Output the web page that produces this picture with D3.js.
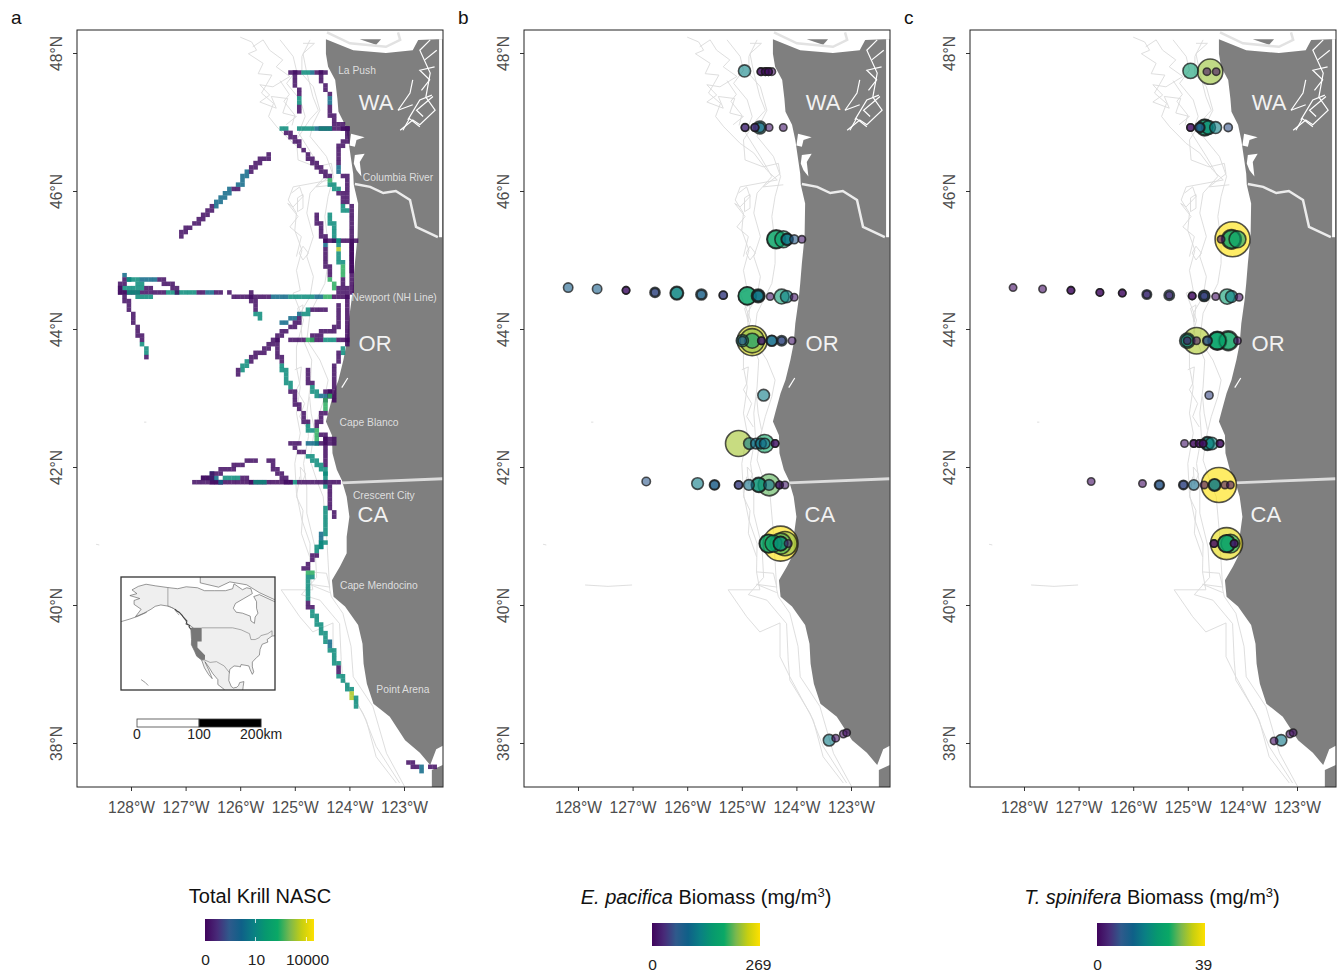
<!DOCTYPE html>
<html>
<meta charset="utf-8">
<title>Krill maps</title>
<style>
    body { margin: 0; background: #fff; }
    svg { display: block; }
    text { font-family: "Liberation Sans", Arial, sans-serif; }
    .tick-label { fill: #4d4d4d; font-size: 15.6px; }
</style>
<script src="https://d3js.org/d3.v7.min.js" charset="utf-8"></script>

<script>
    // map outlines, all [lon, lat]
    const landCoast = [[-124.43,48.20],[-124.43,47.99],[-124.39,47.80],[-124.26,47.61],[-124.22,47.34],[-124.20,47.15],[-124.08,46.96],[-124.02,46.74],[-123.93,46.25],[-123.92,46.09],[-123.84,45.82],[-123.85,45.34],[-123.90,44.95],[-123.93,44.66],[-123.96,44.42],[-124.02,44.08],[-124.05,43.79],[-124.11,43.55],[-124.20,43.26],[-124.29,43.07],[-124.39,42.78],[-124.43,42.66],[-124.32,42.46],[-124.31,42.20],[-124.23,41.96],[-124.14,41.81],[-124.05,41.57],[-124.00,41.28],[-124.05,40.99],[-124.05,40.75],[-124.17,40.56],[-124.32,40.36],[-124.29,40.12],[-124.08,39.98],[-123.84,39.71],[-123.76,39.44],[-123.74,39.15],[-123.68,38.86],[-123.56,38.57],[-123.26,38.38],[-122.98,38.04],[-122.71,37.86],[-122.52,37.68],[-122.41,37.91],[-122.29,37.96],[-122.29,48.20],[-122.40,48.20],[-122.74,48.19],[-122.84,48.04],[-123.33,48.00],[-123.93,48.04]];
    const southPeninsula = [[-122.49,37.61],[-122.29,37.68],[-122.29,37.36],[-122.49,37.36]];
    const vancouverIsland = [[-123.81,48.20],[-123.42,48.20],[-123.51,48.12]];
    const straitLine = [[-124.41,48.30],[-123.99,48.14],[-123.33,48.09],[-123.07,48.19],[-123.11,48.30]];
    const columbiaRiver = [[-123.90,46.10],[-123.62,46.06],[-123.38,45.97],[-123.15,46.00],[-122.89,45.87],[-122.78,45.48],[-122.38,45.33]];
    const stateBorder = [[-124.14,41.77],[-122.29,41.83]];
    const eastStripe = [[-122.33,48.20],[-122.33,45.33]];
    const pugetInlets = [
        [[-123.11,47.17],[-122.89,47.42],[-122.84,47.61]],
        [[-123.11,47.17],[-122.84,47.25]],
        [[-123.07,46.88],[-122.84,47.03],[-122.71,46.96],[-122.43,47.17],[-122.60,47.36],[-122.52,47.71],[-122.71,48.04],[-122.52,48.19]],
        [[-122.93,47.03],[-122.71,47.32],[-122.49,47.39]],
        [[-122.62,47.90],[-122.40,48.04]],
        [[-123.02,46.88],[-122.90,47.05],[-122.71,46.93]],
        [[-122.65,47.08],[-122.77,47.17],[-122.47,47.37]],
        [[-122.68,47.46],[-122.53,47.61],[-122.71,47.75],[-122.44,47.80]],
        [[-124.14,43.15],[-124.03,43.29]]
    ];
    const estuaries = [
        [[-123.97,46.83],[-123.72,46.78],[-123.87,46.74],[-123.90,46.64],[-124.00,46.66]],
        [[-123.90,46.52],[-123.72,46.54],[-123.81,46.42],[-123.78,46.21],[-123.87,46.30],[-123.92,46.40]]
    ];
    const isobaths = [
        [[-126.00,48.23],[-125.79,48.16],[-125.70,48.04],[-125.85,47.99],[-125.58,47.85],[-125.67,47.70],[-125.42,47.68],[-125.52,47.54],[-125.61,47.42],[-125.39,47.27],[-125.48,47.08],[-125.33,46.93],[-125.03,46.69],[-124.78,46.55],[-124.54,46.30],[-124.35,46.16],[-125.03,46.06],[-125.12,45.87],[-124.97,45.68],[-125.00,45.43],[-124.87,45.14],[-124.97,44.85],[-124.90,44.56],[-125.03,44.52],[-124.84,44.13],[-124.97,43.74],[-124.97,43.45],[-124.90,43.16],[-124.97,42.78],[-124.90,42.49],[-125.00,42.05],[-124.97,41.62],[-124.87,41.23],[-124.72,40.89],[-124.73,40.48],[-124.67,40.22],[-125.25,40.22],[-124.91,39.83],[-124.67,39.61],[-124.30,39.74],[-124.30,39.25],[-124.12,38.96],[-123.69,38.33],[-123.51,37.80],[-123.14,37.42]],
        [[-125.27,48.19],[-125.03,47.95],[-124.97,47.75],[-125.15,47.56],[-124.90,47.32],[-124.81,47.08],[-124.93,46.84],[-124.66,46.50],[-124.45,46.21],[-124.72,45.97],[-124.78,45.68],[-124.66,45.34],[-124.78,45.05],[-124.66,44.76],[-124.72,44.47],[-124.90,44.23],[-124.87,43.89],[-124.69,43.55],[-124.72,43.16],[-124.78,42.78],[-124.75,42.44],[-124.84,42.05],[-124.78,41.71],[-124.78,41.33],[-124.63,40.84],[-124.60,40.40],[-124.88,40.15],[-124.54,40.07],[-124.18,39.73],[-124.15,39.20],[-124.12,38.91],[-123.75,38.43],[-123.51,37.95],[-123.08,37.42]],
        [[-124.72,48.19],[-124.87,47.95],[-124.87,47.70],[-124.66,47.51],[-124.54,47.17],[-124.66,46.98],[-124.72,46.79],[-124.42,46.50],[-124.29,46.21],[-124.39,45.92],[-124.45,45.63],[-124.39,45.24],[-124.39,44.95],[-124.45,44.66],[-124.60,44.42],[-124.72,44.23],[-124.78,43.84],[-124.54,43.55],[-124.39,43.26],[-124.45,43.02],[-124.57,42.73],[-124.66,42.44],[-124.72,42.10],[-124.60,41.81],[-124.48,41.57],[-124.42,41.04],[-124.36,40.22],[-124.33,40.12],[-124.12,39.88],[-123.97,39.40],[-123.93,38.96],[-123.57,38.53],[-123.32,37.85],[-122.99,37.37]],
        [[-125.27,47.60],[-125.10,47.40],[-125.20,47.30],[-125.00,47.10],[-125.05,46.95]],
        [[-125.77,48.09],[-125.58,48.19],[-125.46,48.04],[-125.22,47.90],[-125.34,47.80],[-125.09,47.66],[-125.40,47.51],[-125.64,47.54],[-125.46,47.39],[-125.64,47.29],[-125.34,47.20],[-125.43,47.37],[-125.13,47.34],[-125.22,47.13],[-124.97,47.08],[-125.16,46.96]],
        [[-124.85,48.14],[-124.64,48.14],[-124.85,47.99],[-124.79,47.75],[-124.67,47.37],[-124.57,47.17],[-124.73,47.03],[-124.97,46.74],[-124.94,46.45],[-124.61,46.35],[-124.33,46.40],[-124.30,46.25],[-124.61,46.06],[-124.24,46.09]],
        [[-125.06,45.97],[-124.91,46.06],[-124.85,45.92],[-125.03,45.77],[-125.13,45.82],[-124.94,45.63],[-125.09,45.48],[-124.88,45.34],[-124.97,45.05]],
        [[-125.00,43.41],[-124.88,43.45],[-124.91,43.21],[-124.97,43.12],[-124.82,42.92],[-124.91,42.73],[-124.79,42.58]],
        [[-124.73,43.02],[-124.70,42.78],[-124.64,42.54]],
        [[-124.91,41.86],[-124.97,41.57],[-124.85,41.37],[-124.88,41.04],[-124.73,40.70]],
        [[-124.73,40.48],[-124.42,40.46],[-124.36,40.26],[-124.73,40.30],[-124.36,40.18]],
        [[-124.95,45.90],[-124.85,45.95],[-124.85,45.75],[-124.95,45.70],[-124.95,45.90]],
        [[-124.85,45.20],[-124.75,45.10],[-124.85,45.00],[-124.92,45.10],[-124.85,45.20]],
        [[-124.95,44.30],[-124.85,44.35],[-124.88,44.10],[-124.95,44.30]],
        [[-124.90,42.00],[-124.80,41.90],[-124.88,41.75],[-124.90,42.00]],
        [[-127.87,40.29],[-127.45,40.27],[-127.01,40.29]],
        [[-128.64,40.88],[-128.58,40.87]],
        [[-127.76,42.65],[-127.72,42.65]]
    ];

    // survey tracks: waypoints and NASC of the stretch after each waypoint
    const trackCoords = [
        [[-125.06,47.72],[-124.89,47.72],[-124.77,47.72],[-124.66,47.72],[-124.45,47.72]],
        [[-124.98,47.70],[-124.98,47.51],[-124.92,47.46],[-124.92,47.42],[-124.92,47.27],[-124.92,47.13]],
        [[-124.53,47.72],[-124.48,47.56],[-124.39,47.42],[-124.39,47.29],[-124.35,47.17],[-124.26,46.98],[-124.08,46.93]],
        [[-124.93,46.92],[-124.72,46.92],[-124.57,46.92],[-124.08,46.92]],
        [[-124.54,46.88],[-124.35,46.88]],
        [[-125.27,46.92],[-125.18,46.88],[-124.78,46.55],[-124.39,46.21],[-124.35,46.13],[-124.20,46.01],[-124.11,45.87],[-124.08,45.70]],
        [[-124.08,46.92],[-124.08,46.74],[-124.17,46.67],[-124.17,46.40],[-124.17,46.25],[-124.08,46.23],[-124.08,45.87],[-123.98,45.80],[-123.96,45.30],[-123.96,44.52]],
        [[-127.07,45.35],[-127.07,45.41],[-126.83,45.53],[-126.49,45.77],[-126.19,46.01],[-126.06,46.06],[-125.88,46.25],[-125.76,46.35],[-125.48,46.51]],
        [[-124.60,45.68],[-124.54,45.43],[-124.45,45.29],[-124.48,45.19],[-124.45,45.05],[-124.39,44.90],[-124.35,44.76],[-124.29,44.61],[-124.11,44.52]],
        [[-124.35,45.63],[-124.26,45.39],[-124.23,45.19],[-124.18,45.14],[-124.16,44.95],[-124.16,44.78],[-124.11,44.66],[-124.05,44.52]],
        [[-124.45,45.30],[-124.26,45.30],[-124.20,45.30],[-123.90,45.30]],
        [[-124.00,45.24],[-124.00,44.85]],
        [[-126.19,44.54],[-126.16,44.49],[-125.45,44.49],[-125.15,44.49],[-124.66,44.49],[-124.54,44.49],[-124.35,44.49],[-124.05,44.49]],
        [[-128.11,44.76],[-128.02,44.73],[-128.20,44.61],[-128.20,44.52]],
        [[-128.14,44.54],[-127.38,44.54],[-126.86,44.54],[-126.68,44.54],[-126.55,44.54],[-126.40,44.54]],
        [[-128.05,44.73],[-127.84,44.68],[-127.56,44.73],[-127.35,44.68],[-127.13,44.56]],
        [[-128.14,44.61],[-127.84,44.61],[-127.62,44.59]],
        [[-128.05,44.54],[-127.65,44.44]],
        [[-128.20,44.57],[-128.08,44.42],[-127.93,44.08],[-127.80,43.82],[-127.71,43.67],[-127.69,43.60]],
        [[-125.79,44.54],[-125.73,44.28],[-125.66,44.18]],
        [[-124.45,44.28],[-124.66,44.27],[-124.87,44.23],[-125.21,44.08]],
        [[-124.90,44.13],[-125.36,43.84],[-125.64,43.65],[-125.82,43.55],[-126.00,43.43],[-126.06,43.33]],
        [[-124.20,44.37],[-124.20,44.08],[-124.32,43.99],[-124.66,43.89],[-124.69,43.82]],
        [[-125.06,43.82],[-124.87,43.82],[-124.72,43.82],[-124.54,43.82],[-124.29,43.82],[-124.08,43.82]],
        [[-124.05,44.47],[-124.05,43.79],[-124.14,43.67],[-124.23,43.55],[-124.29,43.26],[-124.35,43.02]],
        [[-125.36,43.84],[-125.27,43.55],[-125.09,43.16],[-124.90,42.82]],
        [[-124.75,43.43],[-124.72,43.21],[-124.57,43.02],[-124.35,43.04]],
        [[-124.41,43.09],[-124.29,42.99]],
        [[-124.29,43.09],[-124.41,42.99]],
        [[-124.39,43.02],[-124.45,42.87],[-124.54,42.68],[-124.59,42.58],[-124.59,42.34]],
        [[-124.87,42.75],[-124.78,42.63],[-124.72,42.51]],
        [[-124.54,42.49],[-124.32,42.39]],
        [[-124.78,42.34],[-124.60,42.34],[-124.29,42.37]],
        [[-124.42,42.39],[-124.45,42.00]],
        [[-125.06,42.34],[-124.90,42.34]],
        [[-125.03,42.27],[-124.84,42.22],[-124.45,41.93]],
        [[-124.48,41.93],[-124.45,41.71]],
        [[-126.86,41.75],[-126.37,41.75],[-125.09,41.75],[-124.97,41.75],[-124.39,41.75],[-124.17,41.75]],
        [[-126.71,41.83],[-126.37,41.79]],
        [[-126.52,41.88],[-126.40,41.81]],
        [[-126.68,41.83],[-126.25,41.96],[-126.06,42.03],[-125.70,42.12]],
        [[-126.25,41.86],[-126.06,41.83],[-125.82,41.81],[-125.58,41.79]],
        [[-125.48,42.12],[-125.33,41.93],[-125.09,41.76]],
        [[-124.39,41.69],[-124.39,41.52],[-124.26,41.25]],
        [[-124.48,41.42],[-124.48,41.04],[-124.54,40.84]],
        [[-124.48,40.92],[-124.60,40.80],[-124.72,40.63],[-124.81,40.53],[-124.72,40.46],[-124.72,40.41],[-124.75,40.07],[-124.72,39.98],[-124.60,39.78],[-124.42,39.49],[-124.35,39.40],[-124.23,39.13],[-124.20,39.03],[-123.99,38.77],[-123.93,38.67],[-123.87,38.55]],
        [[-122.89,37.71],[-122.77,37.66],[-122.65,37.61]],
        [[-122.55,37.63],[-122.48,37.63]]
    ];
    const trackNasc = [
        [0.005,16,2,0.005],
        [0.005,0.005,0.005,16,0.005],
        [0.005,0.005,2,0.005,0.005,0.005],
        [16,2,0.005],
        [16],
        [16,0.005,0.005,300,16,0.005,16],
        [0.005,0.005,0.005,2,0.005,0.005,0.005,0.005,0.002],
        [0.005,0.005,0.005,2,0.005,2,0.005,0.005],
        [0.005,0.005,2,0.005,0.005,0.005,300,0.005],
        [16,16,3000,16,300,0.005,0.005],
        [0.002,16,0.002],
        [0.002],
        [0.005,0.005,2,16,2,300,0.002],
        [2,0.005,0.005],
        [0.005,16,0.005,2,0.005],
        [16,2,0.005,0.005],
        [16,0.005],
        [16],
        [0.005,0.005,0.005,16,0.005],
        [0.005,16],
        [0.005,16,2],
        [0.005,0.005,0.005,16,0.005],
        [0.005,0.005,0.005,0.005],
        [0.005,300,0.005,16,0.002],
        [0.002,16,0.005,0.005,0.002],
        [0.005,16,0.005],
        [0.005,16,2],
        [0.002],
        [0.002],
        [300,0.005,0.005,300],
        [0.005,16],
        [0.005],
        [2,0.005],
        [0.002],
        [0.005],
        [0.005,16],
        [16],
        [0.005,0.002,16,0.005,0.002],
        [0.005],
        [2],
        [0.005,0.005,0.005],
        [16,0.005,16],
        [0.005,0.005],
        [0.005,0.005],
        [16,2],
        [16,0.005,0.005,300,16,16,0.005,16,16,2,16,0.005,16,3000,16],
        [0.005,2],
        [0.005]
    ];

    // net tow stations, [lon, lat, biomass]; repeated rows are tows stacked on one spot
    const pacificaStations = [
        [-128.18,44.60,81],[-127.65,44.58,81],[-127.12,44.56,13],[-127.12,44.56,13],
        [-126.59,44.53,94],[-126.59,44.53,40],[-126.19,44.52,135],[-126.19,44.52,121],
        [-125.74,44.50,108],[-125.74,44.50,70],[-125.34,44.49,54],[-125.34,44.49,40],
        [-124.90,44.48,175],[-124.90,44.48,170],[-124.70,44.48,135],[-124.70,44.48,121],[-124.70,44.48,100],
        [-124.48,44.47,13],[-124.27,44.47,148],[-124.18,44.47,121],[-124.04,44.46,13],
        [-124.99,43.83,121],[-124.99,43.83,60],[-124.81,43.83,245],[-124.81,43.83,215],[-124.81,43.83,150],
        [-124.64,43.83,27],[-124.64,43.83,20],[-124.45,43.83,108],[-124.45,43.83,94],
        [-124.27,43.83,100],[-124.27,43.83,40],[-124.08,43.83,13],[-124.60,43.04,115],
        [-125.06,42.34,225],[-124.86,42.34,115],[-124.74,42.34,102],[-124.65,42.34,102],
        [-124.58,42.34,175],[-124.58,42.34,100],[-124.39,42.34,13],[-124.39,42.34,13],
        [-126.75,41.79,60],[-125.81,41.76,115],[-125.50,41.74,94],[-125.50,41.74,70],
        [-125.06,41.74,54],[-125.06,41.74,40],[-124.87,41.74,102],[-124.69,41.74,150],[-124.69,41.74,140],
        [-124.50,41.74,200],[-124.50,41.74,102],[-124.31,41.74,13],[-124.31,41.74,13],[-124.21,41.74,13],
        [-124.29,40.89,269],[-124.21,40.89,215],[-124.29,40.89,195],[-124.51,40.89,180],[-124.51,40.89,172],
        [-124.42,40.89,165],[-124.29,40.89,145],[-124.29,40.89,140],[-124.15,40.89,30],
        [-124.95,47.74,121],[-124.65,47.73,8],[-124.57,47.73,8],[-124.51,47.73,8],[-124.45,47.73,8],[-124.65,47.73,8],[-124.57,47.73,8],[-124.51,47.73,8],
        [-124.94,46.92,35],[-124.94,46.92,27],[-124.76,46.92,45],[-124.76,46.92,27],[-124.67,46.92,130],[-124.67,46.92,90],[-124.50,46.92,15],[-124.24,46.92,15],
        [-124.37,45.30,180],[-124.37,45.30,172],[-124.24,45.30,165],[-124.17,45.30,121],[-124.17,45.30,105],[-124.04,45.30,70],[-123.90,45.30,15],
        [-123.40,38.04,115],[-123.28,38.07,13],[-123.14,38.13,8],[-123.08,38.15,8]
    ];
    const spiniferaStations = [
        [-128.20,44.60,1],[-127.66,44.58,1],[-127.14,44.56,1],[-127.14,44.56,1],[-126.61,44.53,1],[-126.61,44.53,1],
        [-126.20,44.52,1],[-126.20,44.52,1],[-125.75,44.50,12],[-125.75,44.50,1],[-125.34,44.49,14],[-125.34,44.49,1],
        [-124.92,44.48,1],[-124.92,44.48,1],[-124.70,44.48,16],[-124.70,44.48,14],[-124.70,44.48,4],
        [-124.49,44.47,1],[-124.28,44.47,22],[-124.20,44.47,17],[-124.06,44.46,1],
        [-125.01,43.83,22],[-125.01,43.83,18],[-125.01,43.83,1],[-124.84,43.83,33],[-124.84,43.83,2],
        [-124.64,43.83,8],[-124.64,43.83,12],[-124.46,43.83,26],[-124.46,43.83,25],[-124.46,43.83,24],
        [-124.26,43.83,27],[-124.26,43.83,25],[-124.09,43.83,1],[-124.61,43.04,7],
        [-125.06,42.34,2],[-124.89,42.34,1],[-124.89,42.34,1],[-124.79,42.34,1],[-124.79,42.34,1],[-124.72,42.34,1],[-124.72,42.34,1],
        [-124.64,42.34,20],[-124.64,42.34,18],[-124.56,42.34,18],[-124.41,42.34,1],[-124.41,42.34,1],
        [-126.77,41.79,1],[-125.83,41.76,1],[-125.52,41.74,13],[-125.52,41.74,8],[-125.08,41.74,12],[-125.08,41.74,6],
        [-124.89,41.74,14],[-124.70,41.74,1],[-124.43,41.74,39],[-124.51,41.74,18],[-124.51,41.74,16],[-124.32,41.74,2],[-124.22,41.74,1],
        [-124.29,40.89,37],[-124.29,40.89,25],[-124.29,40.89,24],[-124.22,40.89,26],[-124.52,40.89,1],[-124.52,40.89,1],[-124.15,40.89,4],[-124.15,40.89,1],
        [-124.95,47.74,22],[-124.59,47.73,32],[-124.65,47.73,1],[-124.48,47.73,1],
        [-124.95,46.92,1],[-124.95,46.92,1],[-124.78,46.92,14],[-124.78,46.92,10],[-124.69,46.92,24],[-124.69,46.92,22],[-124.62,46.92,20],[-124.49,46.92,17],[-124.26,46.92,8],
        [-124.18,45.30,39],[-124.20,45.30,27],[-124.20,45.30,25],[-124.09,45.30,24],[-124.39,45.30,1],
        [-123.29,38.04,16],[-123.42,38.03,1],[-123.13,38.13,1],[-123.07,38.15,1]
    ];

    // text and ticks
    const lonTicks = [-128, -127, -126, -125, -124, -123];
    const latTicks = [48, 46, 44, 42, 40, 38];
    const stateLabels = [["WA", -123.51, 47.29], ["OR", -123.53, 43.80], ["CA", -123.57, 41.32]];
    const placeLabels = [
        ["La Push", -123.86, 47.75], ["Columbia River", -123.11, 46.20], ["Newport (NH Line)", -123.18, 44.46],
        ["Cape Blanco", -123.64, 42.65], ["Crescent City", -123.37, 41.59], ["Cape Mendocino", -123.46, 40.28],
        ["Point Arena", -123.02, 38.77]
    ];
    const scaleBarKm = [0, 100, 200];
    const nascTicks = [0, 10, 10000];

    // inset map of North America
    const insetContinent = [[-166.5,68.4],[-162,70.2],[-156.5,71.3],[-150,70.5],[-141,69.6],[-134,69],[-128,70],[-120,69.5],[-115,68],[-108,68],[-100,68],[-95,69],[-94,71.5],[-88,68.5],[-85,69.5],[-82,69],[-81,66.5],[-87,64],[-93,61.5],[-94.5,59],[-92.5,57],[-88,56.5],[-82.5,55],[-82,52.5],[-79.5,51.3],[-79,54.5],[-77,56.5],[-78,59],[-78,62.4],[-80,65],[-76,66],[-64,62],[-64,45],[-67,44.8],[-70.5,43],[-70,41.7],[-74,40.6],[-75.5,38],[-76,35],[-78,33.8],[-81,31.5],[-81,29],[-80,26.5],[-81,25.2],[-82.5,27.5],[-83.5,29.5],[-85.5,29.8],[-89,30.2],[-89.5,29],[-91,29.3],[-94,29.5],[-97,27.8],[-97.5,25],[-97.7,22],[-96,19],[-94.5,18.2],[-92,18.6],[-90.8,19.5],[-90,21],[-87,21.5],[-87.5,19],[-88,16],[-100,16],[-101,17.5],[-105.5,20],[-105.5,22.5],[-109,25.5],[-112,29],[-114.7,31.7],[-112,27.5],[-110,24],[-109.5,23],[-112,25],[-115,28.5],[-117,32.5],[-120.5,34.5],[-122,37],[-124.3,40.4],[-124.2,43],[-124.7,48.3],[-123,49],[-127,51],[-130,54.5],[-133,57],[-136,58.5],[-140,60],[-146,60.7],[-150,60],[-153,58.5],[-158,56.5],[-164,54.7],[-160,58.5],[-165,61],[-165,63],[-161,64],[-168,65.5],[-163,66.5],[-166.5,68.4]];
    const insetArctic = [[-118,76],[-118,72],[-105,69.8],[-97,72.5],[-85,71],[-76,67],[-64,63],[-64,76]];
    const insetAleutians = [[-175,52],[-168,53.5],[-162,55],[-156,57]];
    const insetHawaii = [[-160,22.5],[-157,21],[-155,19.5]];
    const insetBcCoast = [[-124.7,48.3],[-126,49.6],[-125.5,50.2],[-128,51],[-127.5,52.5],[-130,54.5],[-131,55.5],[-133,57],[-134.5,57.5],[-136,58.5]];
    const insetStates = [[-124.7,49],[-117,49],[-117,42],[-120,42],[-120,39],[-114.6,35],[-114.7,32.7],[-117,32.5],[-120.5,34.5],[-122,37],[-124.3,40.4],[-124.2,43]];
    const insetBorders = [
        [[-141,69.6],[-141,60],[-137,59],[-133,55.5]],
        [[-117,49],[-95,49],[-89,48],[-83,46],[-82,43],[-79,43],[-76,44],[-75,45],[-70,46],[-67,47.5],[-67,45]],
        [[-117,32.5],[-114.7,32.5],[-111,31.3],[-106.5,31.7],[-101,29.5],[-97.2,26]]
    ];

    const colorStops = ["#40045c", "#482a78", "#2f5a8c", "#0f6088", "#0a7f84", "#07986f", "#0aa866", "#7ab84e", "#c8cf10", "#fde000"];
    const colorRamp = d3.scaleLinear()
        .domain(colorStops.map((d, i) => i / (colorStops.length - 1)))
        .range(colorStops);

    const nascNorm = d3.scaleSymlog().constant(0.01).domain([0, 26000]).range([0, 1]);
    const cellLon = 0.08, cellLat = 0.0625;

    function cellsFor(coords, values) {
        let seen = new Set(), cells = []
        d3.pairs(coords).forEach(([a, b], i) => {
            let n = Math.ceil(Math.hypot(b[0] - a[0], b[1] - a[1]) / 0.02) + 1
            d3.range(n + 1).forEach(k => {
                let lon = a[0] + (b[0] - a[0]) * k / n
                let lat = a[1] + (b[1] - a[1]) * k / n
                let c = Math.floor(lon / cellLon), r = Math.floor(lat / cellLat)
                let key = c + "_" + r
                if (!seen.has(key)) {
                    seen.add(key)
                    cells.push({ lon: c * cellLon, lat: r * cellLat, nasc: values[i] })
                }
            })
        })
        return cells
    }

    function drawPanel(svg, id, offset, letter) {
        let x = d3.scaleLinear().domain([-128, -123]).range([131 + offset, 404 + offset])
        let y = d3.scaleLinear().domain([48, 38]).range([53, 743])
        let left = 77 + offset, right = 443 + offset, top = 30, bottom = 787

        let line = d3.line().x(d => x(d[0])).y(d => y(d[1]))

        svg.append("clipPath").attr("id", id)
            .append("rect").attr("x", left).attr("y", top)
            .attr("width", right - left).attr("height", bottom - top)

        let map = svg.append("g").attr("clip-path", `url(#${id})`)

        map.selectAll(".isobath").data(isobaths).enter().append("path")
            .attr("class", "isobath").attr("d", line)
            .attr("fill", "none").attr("stroke", "#dadada").attr("stroke-width", 0.9)

        map.selectAll(".land").data([landCoast, southPeninsula, vancouverIsland]).enter().append("path")
            .attr("class", "land").attr("d", d => line(d) + "Z").attr("fill", "#7f7f7f")

        map.append("path").attr("d", line(straitLine))
            .attr("fill", "none").attr("stroke", "#e2e2e2").attr("stroke-width", 2.5)
        map.append("path").attr("d", line(columbiaRiver))
            .attr("fill", "none").attr("stroke", "#ececec").attr("stroke-width", 2.5)
        map.append("path").attr("d", line(stateBorder))
            .attr("fill", "none").attr("stroke", "#dcdcdc").attr("stroke-width", 2.8)
        map.append("path").attr("d", line(eastStripe))
            .attr("fill", "none").attr("stroke", "#ffffff").attr("stroke-width", 3)
        map.selectAll(".inlet").data(pugetInlets).enter().append("path")
            .attr("class", "inlet").attr("d", line)
            .attr("fill", "none").attr("stroke", "#fff").attr("stroke-width", 1.2)
        map.selectAll(".estuary").data(estuaries).enter().append("path")
            .attr("class", "estuary").attr("d", d => line(d) + "Z").attr("fill", "#fff")

        // ticks
        let xAxis = d3.axisBottom(x).tickValues(lonTicks).tickSize(4).tickPadding(11)
            .tickFormat(d => Math.abs(d) + "\u00B0W")
        let yAxis = d3.axisLeft(y).tickValues(latTicks).tickSize(4)
            .tickFormat(d => d + "\u00B0N")

        let gx = svg.append("g").attr("transform", `translate(0,${bottom})`).call(xAxis)
        let gy = svg.append("g").attr("transform", `translate(${left},0)`).call(yAxis)
        gx.select(".domain").remove()
        gy.select(".domain").remove()
        gx.selectAll("line").attr("stroke", "#333")
        gy.selectAll("line").attr("stroke", "#333")
        gx.selectAll("text").attr("class", "tick-label")
        gy.selectAll("text").attr("class", "tick-label")
            .attr("transform", "rotate(-90,-20,0)")
            .attr("x", -20).attr("y", 0).attr("dy", "0.35em").style("text-anchor", "middle")

        svg.append("rect").attr("x", left).attr("y", top)
            .attr("width", right - left).attr("height", bottom - top)
            .attr("fill", "none").attr("stroke", "#222").attr("stroke-width", 1)

        svg.append("text").text(letter).attr("x", left - 66).attr("y", 24)
            .attr("font-size", 19).attr("fill", "#111")

        svg.selectAll(".state-" + id).data(stateLabels).enter().append("text")
            .attr("class", "state-" + id)
            .text(d => d[0]).attr("x", d => x(d[1])).attr("y", d => y(d[2]))
            .attr("text-anchor", "middle").attr("dy", "0.35em")
            .attr("font-size", 22).attr("fill", "#f2f2f2")

        return { x, y, map }
    }

    function drawTracks(panel) {
        let rows = trackCoords.flatMap((c, i) => cellsFor(c, trackNasc[i]))
        panel.map.selectAll(".cell").data(rows).enter().append("rect")
            .attr("class", "cell")
            .attr("x", d => panel.x(d.lon))
            .attr("y", d => panel.y(d.lat + cellLat))
            .attr("width", d => panel.x(d.lon + cellLon) - panel.x(d.lon) + 0.2)
            .attr("height", d => panel.y(d.lat) - panel.y(d.lat + cellLat) + 0.2)
            .attr("fill", d => colorRamp(nascNorm(d.nasc)))
            .attr("fill-opacity", 0.85)
    }

    function drawPlaces(svg, panel) {
        svg.selectAll(".place").data(placeLabels).enter().append("text")
            .attr("class", "place")
            .text(d => d[0]).attr("x", d => panel.x(d[1])).attr("y", d => panel.y(d[2]))
            .attr("text-anchor", "middle").attr("dy", "0.35em")
            .attr("font-size", 10.3).attr("fill", "#dedede")
    }

    function drawStations(panel, stations, maxValue) {
        let r = d3.scalePow().exponent(2.2).domain([0, maxValue]).range([3.7, 17.5])
        let sorted = stations.slice().sort((a, b) => d3.descending(a[2], b[2]))
        panel.map.selectAll(".station").data(sorted).enter().append("circle")
            .attr("class", "station")
            .attr("cx", d => panel.x(d[0])).attr("cy", d => panel.y(d[1]))
            .attr("r", d => r(d[2]))
            .attr("fill", d => colorRamp(d[2] / maxValue)).attr("fill-opacity", 0.6)
            .attr("stroke", "#1a1a1a").attr("stroke-opacity", 0.75).attr("stroke-width", 1.6)
    }

    function drawInset(svg, panel) {
        let ix = d3.scaleLinear().domain([-174.3, -64.9]).range([121, 275])
        let iy = d3.scaleLinear().domain([75, 17.2]).range([577, 690])
        let line = d3.line().x(d => ix(d[0])).y(d => iy(d[1]))

        svg.append("clipPath").attr("id", "inset-clip")
            .append("rect").attr("x", 121).attr("y", 577).attr("width", 154).attr("height", 113)
        svg.append("rect").attr("x", 121).attr("y", 577).attr("width", 154).attr("height", 113).attr("fill", "#fff")

        let g = svg.append("g").attr("clip-path", "url(#inset-clip)")
        g.selectAll(".na").data([insetContinent, insetArctic]).enter().append("path")
            .attr("class", "na").attr("d", d => line(d) + "Z")
            .attr("fill", "#efefef").attr("stroke", "#555").attr("stroke-width", 0.6)
        g.selectAll(".islands").data([insetAleutians, insetHawaii]).enter().append("path")
            .attr("class", "islands").attr("d", line)
            .attr("fill", "none").attr("stroke", "#555").attr("stroke-width", 0.6)
        g.append("path").attr("d", line(insetBcCoast))
            .attr("fill", "none").attr("stroke", "#444").attr("stroke-width", 1.1)
        g.selectAll(".border").data(insetBorders).enter().append("path")
            .attr("class", "border").attr("d", line)
            .attr("fill", "none").attr("stroke", "#777").attr("stroke-width", 0.6)
        g.append("path").attr("d", line(insetStates) + "Z").attr("fill", "#777")

        svg.append("rect").attr("x", 121).attr("y", 577).attr("width", 154).attr("height", 113)
            .attr("fill", "none").attr("stroke", "#333").attr("stroke-width", 1.3)

        // scale bar, 88 km per degree of longitude at this latitude
        let barX = km => panel.x(-127.89 + km / 88)
        svg.selectAll(".bar").data(d3.pairs(scaleBarKm)).enter().append("rect")
            .attr("class", "bar")
            .attr("x", d => barX(d[0])).attr("y", 719)
            .attr("width", d => barX(d[1]) - barX(d[0])).attr("height", 8)
            .attr("fill", (d, i) => i == 0 ? "#fff" : "#000")
            .attr("stroke", "#444").attr("stroke-width", 0.8)
        svg.selectAll(".bar-label").data(scaleBarKm).enter().append("text")
            .attr("class", "bar-label")
            .text(d => d == 200 ? "200km" : d)
            .attr("x", d => barX(d)).attr("y", 739)
            .attr("text-anchor", "middle").attr("font-size", 14).attr("fill", "#222")
    }

    function addGradient(svg) {
        let grad = svg.append("defs").append("linearGradient").attr("id", "ramp")
        colorStops.forEach((c, i) => {
            grad.append("stop").attr("offset", i / (colorStops.length - 1)).attr("stop-color", c)
        })
    }

    function drawBar(svg, x0, x1, y0, h) {
        svg.append("rect").attr("x", x0).attr("y", y0).attr("width", x1 - x0).attr("height", h)
            .attr("fill", "url(#ramp)")
    }

    function drawLegends(svg) {
        // panel a
        svg.append("text").text("Total Krill NASC").attr("x", 260).attr("y", 903)
            .attr("text-anchor", "middle").attr("font-size", 20).attr("fill", "#111")
        drawBar(svg, 205, 314, 919, 22)
        let lx = d3.scaleSymlog().constant(0.01).domain([0, 26000]).range([205, 314])
        let axisA = svg.append("g").attr("transform", "translate(0,941)")
            .call(d3.axisBottom(lx).tickValues(nascTicks).tickSize(0).tickPadding(13).tickFormat(d => d))
        axisA.select(".domain").remove()
        axisA.selectAll("text").attr("font-size", 15.5).attr("font-family", null).attr("fill", "#222")
        svg.selectAll(".nasc-tick").data(nascTicks.slice(1)).enter().append("rect")
            .attr("class", "nasc-tick").attr("x", d => lx(d) - 1).attr("y", 919)
            .attr("width", 0.8).attr("height", 4).attr("fill", "#fff")
        svg.selectAll(".nasc-tick2").data(nascTicks.slice(1)).enter().append("rect")
            .attr("class", "nasc-tick2").attr("x", d => lx(d) - 1).attr("y", 937)
            .attr("width", 0.8).attr("height", 4).attr("fill", "#fff")

        // panels b and c
        let bio = [
            { sp: "E. pacifica", cx: 706, x0: 652, x1: 760, max: 269 },
            { sp: "T. spinifera", cx: 1152, x0: 1097, x1: 1205, max: 39 }
        ]
        bio.forEach(b => {
            let t = svg.append("text").attr("x", b.cx).attr("y", 904)
                .attr("text-anchor", "middle").attr("font-size", 20).attr("fill", "#111")
            t.append("tspan").text(b.sp).attr("font-style", "italic")
            t.append("tspan").text(" Biomass (mg/m")
            t.append("tspan").text("3").attr("font-size", 13).attr("dy", -7)
            t.append("tspan").text(")").attr("dy", 7)
            drawBar(svg, b.x0, b.x1, 923, 23)
            let sx = d3.scaleLinear().domain([0, b.max]).range([b.x0, b.x1 - 2])
            let ax = svg.append("g").attr("transform", "translate(0,946)")
                .call(d3.axisBottom(sx).tickValues([0, b.max]).tickSize(0).tickPadding(13).tickFormat(d => d))
            ax.select(".domain").remove()
            ax.selectAll("text").attr("font-size", 15.5).attr("font-family", null).attr("fill", "#222")
        })
    }

    function doload() {
        let svg = d3.select("body").append("svg").attr("width", 1337).attr("height", 973)
        addGradient(svg)

        let a = drawPanel(svg, "clip-a", 0, "a")
        let b = drawPanel(svg, "clip-b", 447, "b")
        let c = drawPanel(svg, "clip-c", 893, "c")

        drawTracks(a)
        drawPlaces(svg, a)
        drawInset(svg, a)
        drawStations(b, pacificaStations, 269)
        drawStations(c, spiniferaStations, 39)
        drawLegends(svg)
    }
</script>

<head></head>

<body onload="doload()">
</body>

</html>
